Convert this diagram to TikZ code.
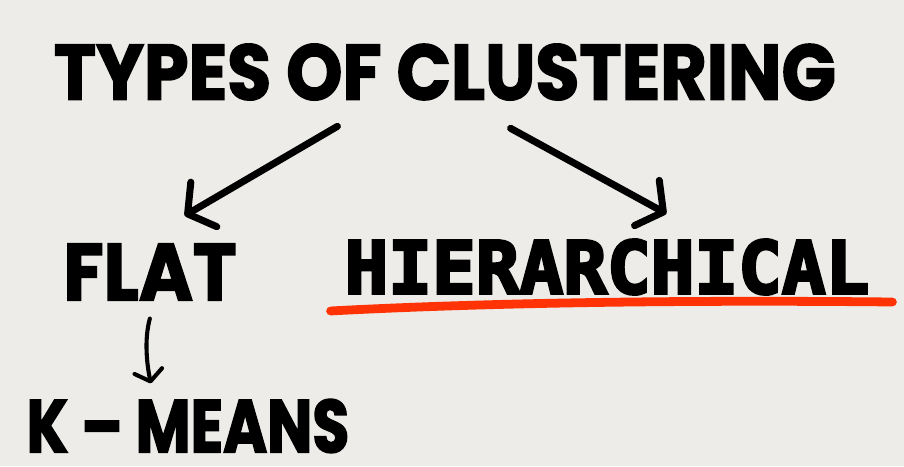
\documentclass[tikz,border=0pt]{standalone}
\usepackage{fontspec}
\setmainfont{Poppins}[FakeStretch=0.91, BoldFeatures={FakeBold=2}]
\newfontfamily\narrowfont{Poppins}[FakeStretch=0.8, BoldFeatures={FakeBold=2}]
\newfontfamily\slabfont{DejaVu Sans Mono}[BoldFont={DejaVu Sans Mono Bold}, BoldFeatures={FakeBold=4}]
\usetikzlibrary{arrows.meta}
\definecolor{board}{RGB}{237,236,232}
\definecolor{marker}{RGB}{255,51,5}

\begin{document}
\begin{tikzpicture}[x=0.03cm, y=-0.03cm, font=\bfseries,
    chalk/.style={draw, line width=6pt, line cap=round,
        -{Straight Barb[length=16pt, width=44pt, line width=6pt, round]}},
    thin chalk/.style={draw, line width=3.5pt, line cap=round,
        -{Straight Barb[length=9pt, width=24pt, line width=3.5pt, round]}}]
    % Background
    \fill [board] (0,0) rectangle (904,466);
    \useasboundingbox (0,0) rectangle (904,466);
    % Place nodes
    \node [inner sep=0pt, outer sep=0pt, font=\fontsize{67}{67}\bfseries] (T) at (445,72) {TYPES OF CLUSTERING};
    \node [inner sep=0pt, outer sep=0pt, font=\fontsize{69}{69}\bfseries] (F) at (150,272) {FLAT};
    \node [inner sep=0pt, outer sep=0pt, font=\fontsize{62}{62}\slabfont\bfseries] (H) at (607,267) {HIERARCHICAL};
    \node [inner sep=0pt, outer sep=0pt, font=\fontsize{64}{64}\narrowfont\bfseries] (K) at (188,426) {K – MEANS};
    \node [inner sep=0pt, outer sep=0pt] (TL) at (338,126) {};
    \node [inner sep=0pt, outer sep=0pt] (TR) at (510,128) {};
    \node [inner sep=0pt, outer sep=0pt] (FF) at (184,216) {};
    \node [inner sep=0pt, outer sep=0pt] (HH) at (667,214) {};
    \node [inner sep=0pt, outer sep=0pt] (FD) at (150,318) {};
    \node [inner sep=0pt, outer sep=0pt] (KK) at (151,384) {};
    \node [inner sep=0pt, outer sep=0pt] (U1) at (330,311) {};
    \node [inner sep=0pt, outer sep=0pt] (U2) at (893,302) {};
    \path [chalk] (TL) -- (FF);
    \path [chalk] (TR) -- (HH);
    \path [thin chalk] (FD) .. controls (144,340) and (147,365) .. (KK);
    \path [draw, marker, line width=7.5pt, line cap=round] (U1) .. controls (500,302) and (700,300) .. (U2);
\end{tikzpicture}
\end{document}
